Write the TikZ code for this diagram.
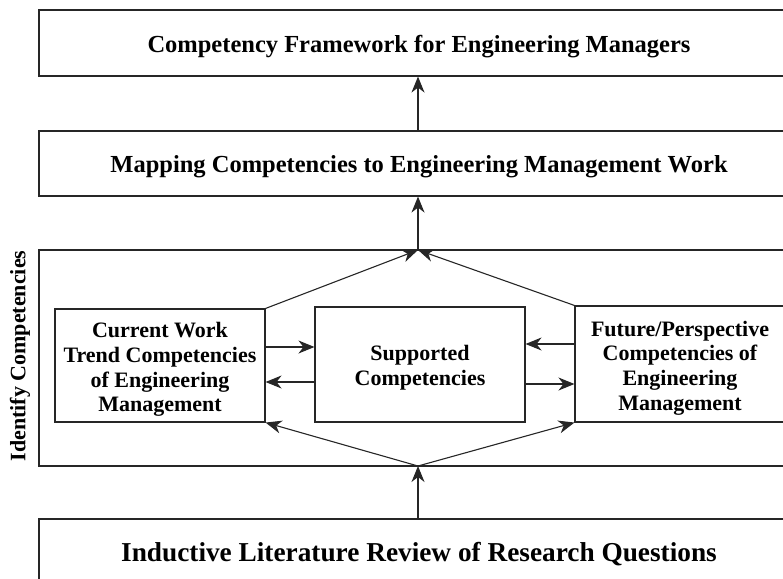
\documentclass[tikz,border=0pt]{standalone}
\usepackage{fontspec}
\setmainfont{Liberation Serif}
\usetikzlibrary{arrows.meta,calc}
\tikzset{
  line/.style={draw=black!85, line width=1.1pt},
  arr/.style={line, -{Stealth[length=16pt,width=13pt,inset=5pt]}},
  wide/.style={line, rectangle, minimum width=760pt, inner sep=0pt},
  inner/.style={line, rectangle, minimum width=210pt, inner sep=0pt},
  widetext/.style={inner sep=0pt, align=center, yshift=-3.5pt, font=\bfseries\fontsize{24.5}{28}\selectfont},
  innertext/.style={inner sep=0pt, align=center, yshift=-4pt, font=\bfseries\fontsize{22}{24.7}\selectfont},
}
\begin{document}
\begin{tikzpicture}[x=1pt,y=-1pt]
\useasboundingbox (0,0) rectangle (783,578);
\clip (0,0) rectangle (783,578);
\node[wide, minimum height=66pt] (top) at (419,43) {};
\node[wide, minimum height=65pt] (map) at (419,163.5) {};
\node[wide, minimum height=216pt] (ident) at (419,358) {};
\node[wide, minimum height=68pt] (bot) at (419,553) {};
\node[inner, minimum height=113pt] (left) at (160,365.5) {};
\node[inner, minimum height=115pt] (mid) at (420,364.5) {};
\node[inner, minimum height=116pt] (right) at (680,364) {};
\node[widetext] (topT) at (top.center) {Competency Framework for Engineering Managers};
\node[widetext] (mapT) at (map.center) {Mapping Competencies to Engineering Management Work};
\node[widetext, yshift=2.5pt, font=\bfseries\fontsize{27.3}{32}\selectfont] (botT) at (bot.center) {Inductive Literature Review of Research Questions};
\node[innertext] (leftT) at (left.center) {Current Work\\Trend Competencies\\of Engineering\\Management};
\node[innertext, yshift=1pt] (midT) at (mid.center) {Supported\\Competencies};
\node[innertext] (rightT) at (right.center) {Future/Perspective\\Competencies of\\Engineering\\Management};
\node[rotate=90, font=\bfseries\fontsize{22}{24}\selectfont] (lab) at (20,356) {Identify Competencies};
\coordinate (itop) at (418,250);
\coordinate (ibot) at (418,466);
\draw[arr] (map.north -| itop) -- (top.south -| itop);
\draw[arr] (itop) -- (map.south -| itop);
\draw[arr] (bot.north -| ibot) -- (ibot);
\draw[arr] (left.north east) -- (itop);
\draw[arr] (right.north west) -- (itop);
\draw[arr] (ibot) -- (left.south east);
\draw[arr] (ibot) -- (right.south west);
\draw[arr] (left.east |- 0,347) -- (mid.west |- 0,347);
\draw[arr] (mid.west |- 0,382) -- (left.east |- 0,382);
\draw[arr] (right.west |- 0,344) -- (mid.east |- 0,344);
\draw[arr] (mid.east |- 0,384) -- (right.west |- 0,384);
\end{tikzpicture}
\end{document}
